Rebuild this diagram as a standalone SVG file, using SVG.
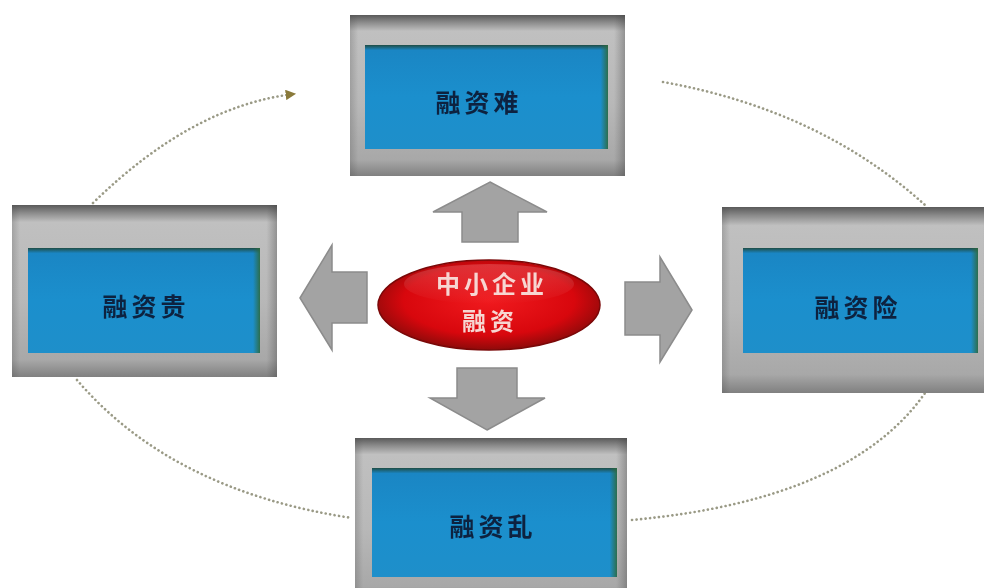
<svg xmlns="http://www.w3.org/2000/svg" width="984" height="588" viewBox="0 0 984 588">
  <defs>
    <linearGradient id="frameV" x1="0" y1="0" x2="0" y2="1">
      <stop offset="0" stop-color="#5a5a5a"/>
      <stop offset="0.045" stop-color="#8a8a8a"/>
      <stop offset="0.1" stop-color="#c0c0c0"/>
      <stop offset="0.55" stop-color="#b8b8b8"/>
      <stop offset="0.9" stop-color="#a8a8a8"/>
      <stop offset="1" stop-color="#808080"/>
    </linearGradient>
    <linearGradient id="frameH" x1="0" y1="0" x2="1" y2="0">
      <stop offset="0" stop-color="#4a4a4a" stop-opacity="0.25"/>
      <stop offset="0.03" stop-color="#4a4a4a" stop-opacity="0"/>
      <stop offset="0.96" stop-color="#4a4a4a" stop-opacity="0"/>
      <stop offset="1" stop-color="#3c3c3c" stop-opacity="0.35"/>
    </linearGradient>
    <linearGradient id="panel" x1="0" y1="0" x2="0" y2="1">
      <stop offset="0" stop-color="#1f4d45"/>
      <stop offset="0.05" stop-color="#1a86c4"/>
      <stop offset="0.5" stop-color="#1b8fcd"/>
      <stop offset="1" stop-color="#1e8fca"/>
    </linearGradient>
    <linearGradient id="panelEdge" x1="0" y1="0" x2="1" y2="0">
      <stop offset="0" stop-color="#2e6a3e" stop-opacity="0"/>
      <stop offset="0.97" stop-color="#2e6a3e" stop-opacity="0"/>
      <stop offset="1" stop-color="#2e6a3e" stop-opacity="0.9"/>
    </linearGradient>
    <radialGradient id="redOval" cx="0.5" cy="0.45" r="0.55">
      <stop offset="0" stop-color="#f01a1e"/>
      <stop offset="0.7" stop-color="#d8070d"/>
      <stop offset="1" stop-color="#8e0a0a"/>
    </radialGradient>
    <linearGradient id="ovalShine" x1="0" y1="0" x2="0" y2="1">
      <stop offset="0" stop-color="#ffffff" stop-opacity="0.18"/>
      <stop offset="1" stop-color="#ffffff" stop-opacity="0"/>
    </linearGradient>
    <marker id="tip" viewBox="0 0 10 10" refX="8" refY="5" markerWidth="4" markerHeight="4" orient="auto">
      <path d="M0,0 L10,5 L0,10 z" fill="#8a7a3a"/>
    </marker>
    <filter id="soft" x="-5%" y="-5%" width="110%" height="110%">
      <feGaussianBlur stdDeviation="0.6"/>
    </filter>
  </defs>
  <style>
    .frame { fill: url(#frameV); }
    .frameShade { fill: url(#frameH); }
    .panel { fill: url(#panel); }
    .panelEdge { fill: url(#panelEdge); }
    .label { font-family: "Noto Sans CJK SC", "Noto Sans", sans-serif; font-weight: 700; font-size: 25px; fill: #0c2340; text-anchor: middle; letter-spacing: 4px; }
    .core { font-family: "Noto Sans CJK SC", "Noto Sans", sans-serif; font-weight: 700; font-size: 24px; fill: #f7d6d2; text-anchor: middle; letter-spacing: 4px; }
    .block { fill: #a3a3a3; stroke: #8c8c8c; stroke-width: 1.5; stroke-linejoin: miter; }
    .orbit { fill: none; stroke: #9a9a86; stroke-width: 2.6; stroke-dasharray: 0.1 4.4; stroke-linecap: round; }
  </style>

  <rect width="984" height="588" fill="#ffffff"/>

  <!-- dotted orbit linking the four boxes -->
  <g id="connectors">
    <path class="orbit" d="M93 203 Q192 106 294 94" marker-end="url(#tip)"/>
    <path class="orbit" d="M663 82 Q820 110 925 205"/>
    <path class="orbit" d="M77 380 Q172 491 352 518"/>
    <path class="orbit" d="M632 520 Q850 500 925 393"/>
  </g>

  <!-- block arrows around the centre -->
  <g id="arrows">
    <polygon class="block" points="490,182 547,212 518,212 518,242 462,242 462,212 433,212"/>
    <polygon class="block" points="300,298 332,245 332,272 367,272 367,323 332,323 332,350"/>
    <polygon class="block" points="692,310 660,257 660,282 625,282 625,335 660,335 660,362"/>
    <polygon class="block" points="487,430 545,398 517,398 517,368 457,368 457,398 430,398"/>
  </g>

  <!-- top box -->
  <g id="node-top">
    <rect class="frame" x="350" y="15" width="275" height="161"/>
    <rect class="frameShade" x="350" y="15" width="275" height="161"/>
    <rect class="panel" x="365" y="45" width="243" height="104"/>
    <rect class="panelEdge" x="365" y="45" width="243" height="104"/>
    <text class="label" x="479" y="112" filter="url(#soft)">融资难</text>
  </g>

  <!-- left box -->
  <g id="node-left">
    <rect class="frame" x="12" y="205" width="265" height="172"/>
    <rect class="frameShade" x="12" y="205" width="265" height="172"/>
    <rect class="panel" x="28" y="248" width="232" height="105"/>
    <rect class="panelEdge" x="28" y="248" width="232" height="105"/>
    <text class="label" x="146" y="316" filter="url(#soft)">融资贵</text>
  </g>

  <!-- right box -->
  <g id="node-right">
    <rect class="frame" x="722" y="207" width="272" height="186"/>
    <rect class="frameShade" x="722" y="207" width="272" height="186"/>
    <rect class="panel" x="743" y="248" width="235" height="105"/>
    <rect class="panelEdge" x="743" y="248" width="235" height="105"/>
    <text class="label" x="858" y="317" filter="url(#soft)">融资险</text>
  </g>

  <!-- bottom box -->
  <g id="node-bottom">
    <rect class="frame" x="355" y="438" width="272" height="165"/>
    <rect class="frameShade" x="355" y="438" width="272" height="165"/>
    <rect class="panel" x="372" y="468" width="245" height="109"/>
    <rect class="panelEdge" x="372" y="468" width="245" height="109"/>
    <text class="label" x="493" y="536" filter="url(#soft)">融资乱</text>
  </g>

  <!-- centre oval -->
  <g id="node-center">
    <ellipse cx="489" cy="305" rx="111" ry="45" fill="url(#redOval)" stroke="#7a0808" stroke-width="1.5"/>
    <ellipse cx="489" cy="284" rx="85" ry="20" fill="url(#ovalShine)"/>
    <text class="core" x="492" y="293" filter="url(#soft)">中小企业</text>
    <text class="core" x="490" y="330" filter="url(#soft)">融资</text>
  </g>
</svg>
